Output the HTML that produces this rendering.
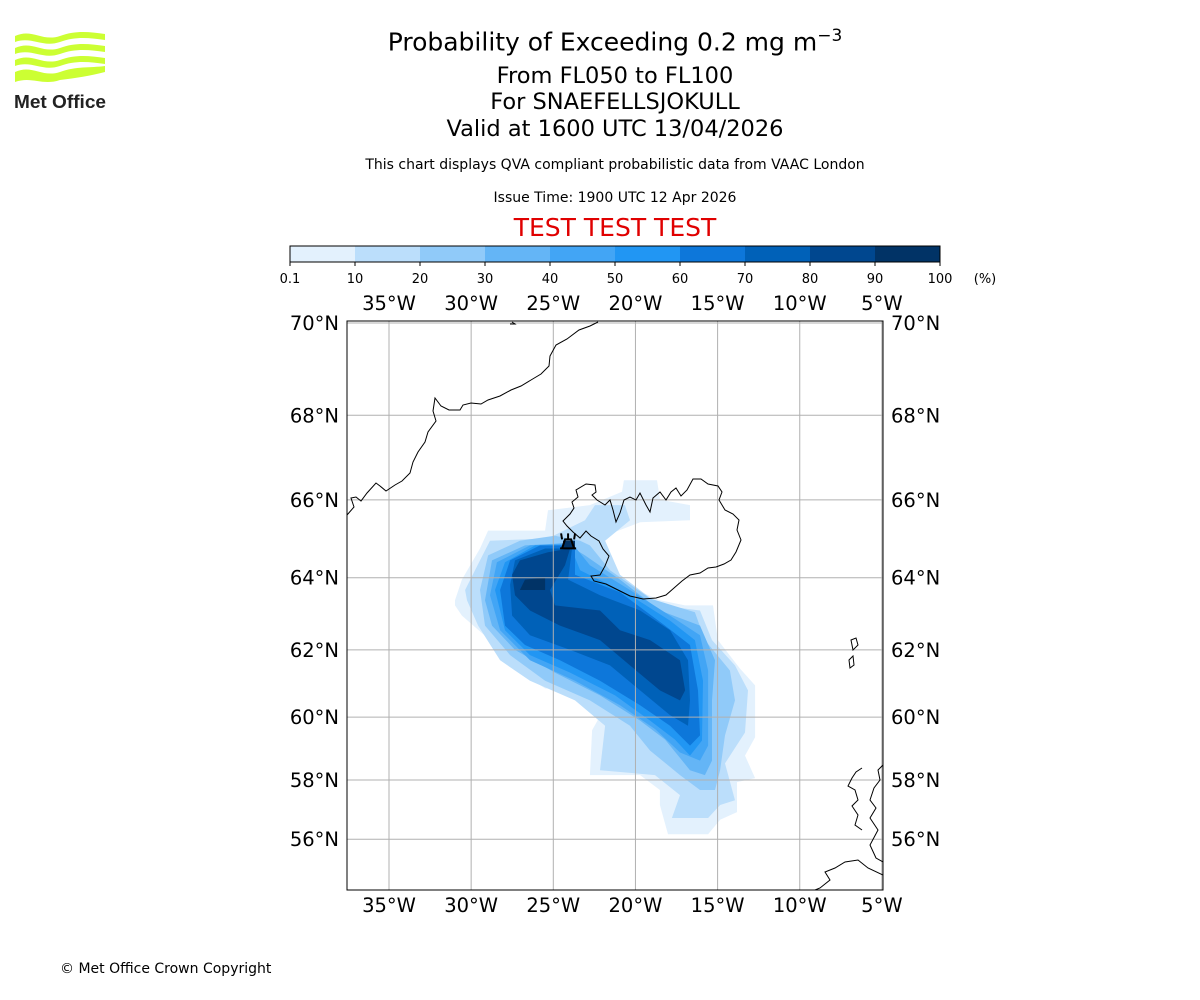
<!DOCTYPE html>
<html><head><meta charset="utf-8"><style>
body{margin:0;background:#fff;font-family:"DejaVu Sans","Liberation Sans",sans-serif;}
#wrap{position:relative;width:1200px;height:1000px;overflow:hidden;}
.t{position:absolute;left:0;width:1230px;text-align:center;color:#000;}
</style></head><body>
<div id="wrap">
<svg style="position:absolute;left:12px;top:30px" width="96" height="82" viewBox="0 0 96 82">
<g fill="#ccff33">
<path d="M3 6 C20 -2 30 12 48 6 C64 0 78 2 93 4 L93 10 C78 8 64 6 48 12 C30 18 20 6 3 12Z"/>
<path d="M3 18 C20 10 30 24 48 18 C64 12 78 14 93 16 L93 22 C78 20 64 18 48 24 C30 30 20 18 3 24Z"/>
<path d="M3 30 C20 22 30 36 48 30 C64 24 78 26 93 28 L93 34 C78 32 64 30 48 36 C30 42 20 30 3 36Z"/>
<path d="M3 42 C20 34 30 48 48 42 C64 36 78 38 93 36 L93 42 C78 46 64 48 48 50 C30 56 20 46 3 52Z"/>
</g>
<text x="2" y="78" font-size="18" font-weight="bold" fill="#222" font-family="Liberation Sans Narrow, Liberation Sans, sans-serif" textLength="92" lengthAdjust="spacingAndGlyphs">Met Office</text>
</svg>
<div class="t" style="top:26px;font-size:25px">Probability of Exceeding 0.2 mg m<sup style="font-size:17px">−3</sup></div>
<div class="t" style="top:63px;font-size:22.5px">From FL050 to FL100</div>
<div class="t" style="top:89px;font-size:22.5px">For SNAEFELLSJOKULL</div>
<div class="t" style="top:116px;font-size:22.5px">Valid at 1600 UTC 13/04/2026</div>
<div class="t" style="top:157px;font-size:14px">This chart displays QVA compliant probabilistic data from VAAC London</div>
<div class="t" style="top:190px;font-size:14px">Issue Time: 1900 UTC 12 Apr 2026</div>
<div class="t" style="top:213px;font-size:25px;color:#e00000">TEST TEST TEST</div>
<div style="position:absolute;left:60px;top:961px;font-size:14px">© Met Office Crown Copyright</div>
<svg id="chart" style="position:absolute;left:0;top:0;font-family:'DejaVu Sans',sans-serif" width="1200" height="1000"></svg>
</div>
<script>
const levels=[0.1,10,20,30,40,50,60,70,80,90,100];
const colors=["#e3f1fd","#bbdefb","#90caf9","#64b5f6","#42a5f5","#2196f3","#0d77da","#0061b8","#00478f","#013366"];
const lonTicks=[-35,-30,-25,-20,-15,-10,-5];
const latTicks=[70,68,66,64,62,60,58,56];
const plume0=[[-30.98,63.39],[-30.56,63.95],[-29.46,64.77],[-28.97,65.23],[-25.5,65.23],[-25.32,65.74],[-22.77,65.87],[-20.82,66.2],[-20.7,66.48],[-18.69,66.48],[-18.5,66],[-16.68,65.87],[-16.68,65.49],[-19.72,65.44],[-21.85,65.1],[-22.16,64.46],[-20.64,63.81],[-18.51,63.39],[-16.98,63.25],[-15.28,63.25],[-14.98,62.28],[-13.64,61.46],[-12.72,60.96],[-12.72,59.37],[-13.33,58.79],[-12.72,58.06],[-13.82,57.93],[-13.82,56.93],[-14.85,56.67],[-15.58,56.17],[-18.02,56.17],[-18.51,57.17],[-18.51,57.67],[-19.72,58.16],[-22.77,58.16],[-22.64,59.59],[-22.16,60.03],[-23.07,60.81],[-25.5,60.87],[-27.63,61.55],[-28.85,62.28],[-30.56,62.97],[-30.98,63.25]];
const plume1=[[-30.37,63.67],[-29.46,64.46],[-28.85,64.97],[-25.32,65.03],[-23.07,65.49],[-22.46,65.87],[-20.64,65.87],[-20.33,65.49],[-21.85,64.97],[-20.94,64.08],[-18.51,63.25],[-16.07,63.11],[-15.34,62.28],[-13.94,61.55],[-13.15,60.81],[-13.33,59.52],[-14.55,58.54],[-13.94,57.33],[-14.85,57.17],[-15.58,56.73],[-17.78,56.73],[-17.29,57.5],[-18.81,58.16],[-22.16,58.32],[-21.85,59.73],[-23.68,60.51],[-26.42,61.1],[-28.24,61.7],[-29.58,62.69],[-30.25,63.39]];
const plume2=[[-29.46,63.67],[-28.97,64.59],[-27.03,64.97],[-24.9,65.1],[-23.37,64.97],[-22.77,64.85],[-21.55,64.2],[-19.11,63.44],[-16.38,63.06],[-15.77,62.28],[-14.25,61.4],[-13.94,60.51],[-14.55,59.43],[-14.85,58.32],[-15.16,57.67],[-16.07,57.67],[-17.29,58.16],[-19.11,58.95],[-20.33,59.73],[-22.77,60.51],[-25.5,61.1],[-27.63,61.85],[-29.16,62.69]];
const plume3=[[-29.16,63.39],[-28.73,64.46],[-26.72,64.85],[-24.29,64.91],[-23.07,64.59],[-20.94,63.95],[-18.51,63.11],[-16.07,62.69],[-15.16,61.7],[-15.34,60.51],[-15.34,58.63],[-15.77,58.16],[-16.68,58.32],[-18.2,59.3],[-19.72,59.89],[-22.16,60.66],[-24.9,61.34],[-27.33,62],[-28.73,62.69]];
const plume4=[[-28.85,63.53],[-28.43,64.41],[-26.42,64.85],[-23.86,64.91],[-22.77,64.33],[-20.33,63.67],[-17.9,62.97],[-16.07,62.42],[-15.58,61.4],[-15.58,59.11],[-16.07,58.63],[-17.29,58.89],[-18.81,59.63],[-20.94,60.36],[-23.68,61.1],[-26.42,61.7],[-28.24,62.56]];
const plume5=[[-28.55,63.67],[-27.94,64.41],[-26.11,64.85],[-23.98,64.85],[-23.37,64.2],[-20.33,63.53],[-17.9,62.83],[-16.38,62.28],[-15.89,61.1],[-15.95,59.27],[-16.68,58.79],[-17.6,59.3],[-19.11,59.89],[-21.24,60.66],[-23.98,61.34],[-26.42,61.85],[-27.94,62.56]];
const plume6=[[-28.24,63.67],[-27.63,64.46],[-25.81,64.85],[-23.68,64.85],[-23.68,64.08],[-20.94,63.61],[-18.2,62.69],[-16.68,62.14],[-16.19,60.81],[-16.07,59.43],[-16.68,59.11],[-17.9,59.73],[-19.72,60.36],[-22.16,61.1],[-24.59,61.7],[-26.72,62.14],[-27.94,62.69]];
const plume7=[[-27.63,63.81],[-27.33,64.46],[-25.5,64.77],[-23.86,64.77],[-24.1,63.95],[-22.16,63.53],[-19.72,63.11],[-17.9,62.56],[-16.8,61.7],[-16.68,60.51],[-16.8,59.73],[-17.9,60.06],[-19.72,60.81],[-21.55,61.55],[-23.98,62],[-26.42,62.42],[-27.51,62.97]];
const plume8=[[-27.51,64.08],[-27.03,64.46],[-25.32,64.67],[-23.98,64.77],[-24.29,64.33],[-25.2,63.67],[-24.9,63.25],[-22.16,63.11],[-20.94,62.56],[-19.11,62.28],[-17.29,61.7],[-16.98,60.81],[-17.29,60.51],[-18.51,60.81],[-20.33,61.55],[-22.16,62.28],[-24.59,62.69],[-26.42,63.11],[-27.33,63.53]];
const plume9a=[[-27.03,63.67],[-26.72,63.95],[-25.5,64],[-25.5,63.67]];
const plume9b=[[-24.41,64.97],[-23.68,64.97],[-23.68,64.77],[-24.41,64.77]];
const plumes=[[0,plume0],[1,plume1],[2,plume2],[3,plume3],[4,plume4],[5,plume5],[6,plume6],[7,plume7],[8,plume8],[9,plume9a],[9,plume9b]];

const NS="http://www.w3.org/2000/svg";
const svg=document.getElementById('chart');
const L=347,R=883,T=321,B=890;
function merc(lat){return Math.log(Math.tan(Math.PI/4+lat*Math.PI/360));}
function xs(lon){return 389+(lon+35)*16.43;}
function ys(lat){return 323+(merc(70)-merc(lat))*938 + 2*Math.sin((70-lat)/14*Math.PI);}
function mk(tag,attrs,parent){const e=document.createElementNS(NS,tag);for(const k in attrs)e.setAttribute(k,attrs[k]);(parent||svg).appendChild(e);return e;}

const cbX=290,cbW=650,cbY=246,cbH=16;
colors.forEach((c,i)=>{
  const r=mk('rect',{x:cbX+i*cbW/colors.length,y:cbY,width:cbW/colors.length+0.5,height:cbH,fill:c});
  
  
});
const cbo=mk('rect',{x:cbX,y:cbY,width:cbW,height:cbH,fill:'none',stroke:'#000','stroke-width':1});


levels.forEach((v,i)=>{
  const x=cbX+i*cbW/(levels.length-1);
  mk('line',{x1:x,x2:x,y1:cbY+cbH,y2:cbY+cbH+4,stroke:'#000'});
  const t=mk('text',{x:x,y:283,'font-size':13,'text-anchor':'middle'});t.textContent=v;
  
  
});
const pct=mk('text',{x:985,y:283,'font-size':13,'text-anchor':'middle'});pct.textContent='(%)';



const defs=mk('defs',{});
const cp=mk('clipPath',{id:'mapclip'},defs);
mk('rect',{x:L,y:T,width:R-L,height:B-T},cp);
const g=mk('g',{'clip-path':'url(#mapclip)'});



plumes.forEach(([li,pts])=>{
  const p=mk('polygon',{points:pts.map(([lo,la])=>xs(lo).toFixed(1)+','+ys(la).toFixed(1)).join(' '),fill:colors[li]},g);
  
  
});

lonTicks.forEach(lo=>{const l=mk('line',{x1:xs(lo),x2:xs(lo),y1:T,y2:B,stroke:'#b0b0b0','stroke-width':1},g);
  
  });
latTicks.forEach(la=>{const l=mk('line',{x1:L,x2:R,y1:ys(la),y2:ys(la),stroke:'#b0b0b0','stroke-width':1},g);
  
  });

const coast=[
"M347,515 L354,507 L351,498 L356,497 L361,501 L367,493 L376,483 L380,486 L386,491 L395,485 L402,481 L410,473 L413,462 L418,452 L425,442 L428,432 L436,421 L433,411 L435,398 L441,406 L449,410 L460,410 L463,405 L471,403 L481,404 L488,400 L500,396 L511,390 L521,386 L531,380 L541,374 L549,366 L550,356 L556,345 L567,339 L579,330 L590,326 L598,322",
"M563,521 L570,514 L574,508 L572,502 L578,497 L576,490 L586,484 L595,485 L596,492 L592,495 L597,500 L605,505 L610,500 L613,510 L616,522 L620,513 L624,500 L630,497 L636,500 L640,493 L646,505 L650,512 L653,498 L660,492 L666,500 L671,492 L676,488 L681,496 L687,490 L693,479 L701,479 L708,484 L718,486 L722,492 L719,500 L725,510 L733,514 L739,520 L737,530 L741,540 L736,552 L731,560 L724,564 L716,567 L708,568 L700,573 L690,575 L682,581 L674,588 L666,595 L656,598 L643,599 L630,596 L618,590 L606,584 L594,581 L591,576 L600,575 L605,566 L609,556 L603,549 L599,541 L591,536 L586,531 L580,538 L573,532 L567,526 Z",
"M851,640 L856,638 L858,645 L853,650 Z M849,660 L853,656 L854,665 L850,668 Z",
"M883,765 L878,770 L880,780 L874,788 L870,800 L876,808 L870,818 L878,830 L870,845 L876,858 L883,862 M883,875 L868,868 L858,860 L845,862 L835,868 L825,872 L830,880 L820,888 L815,890 M862,768 L856,772 L852,778 L848,786 L855,790 L858,800 L852,806 L858,815 L855,825 L862,830",
"M512,322 L515,324 L510,324"
];
coast.forEach(d=>{const p=mk('path',{d:d,fill:'none',stroke:'#000','stroke-width':1},g);
  
  });

const vx=xs(-24.1),vy=ys(64.85);
const vg=mk('g',{stroke:'#000','stroke-width':2,fill:'none'},g);


mk('path',{d:`M${vx-6},${vy+3} L${vx-3},${vy-6} L${vx+3},${vy-6} L${vx+6},${vy+3} Z M${vx-8},${vy+3} L${vx+8},${vy+3} M${vx-6},${vy-6} L${vx-7},${vy-12} M${vx},${vy-6} L${vx},${vy-12} M${vx+6},${vy-6} L${vx+7},${vy-12}`},vg);

const fr=mk('rect',{x:L,y:T,width:R-L,height:B-T,fill:'none',stroke:'#000','stroke-width':1});



function lonLabel(lo){return Math.abs(lo)+'°W';}
lonTicks.forEach(lo=>{
  [[310,'top-lon-label'],[912,'bottom-lon-label']].forEach(([y,n])=>{
    const t=mk('text',{x:xs(lo),y:y,'font-size':19.5,'text-anchor':'middle'});t.textContent=lonLabel(lo);
    
    
  });
});
latTicks.forEach(la=>{
  const t1=mk('text',{x:339,y:ys(la)+7,'font-size':19.5,'text-anchor':'end'});t1.textContent=la+'°N';
  
  
  const t2=mk('text',{x:891,y:ys(la)+7,'font-size':19.5,'text-anchor':'start'});t2.textContent=la+'°N';
  
  
});
</script>
</body></html>
